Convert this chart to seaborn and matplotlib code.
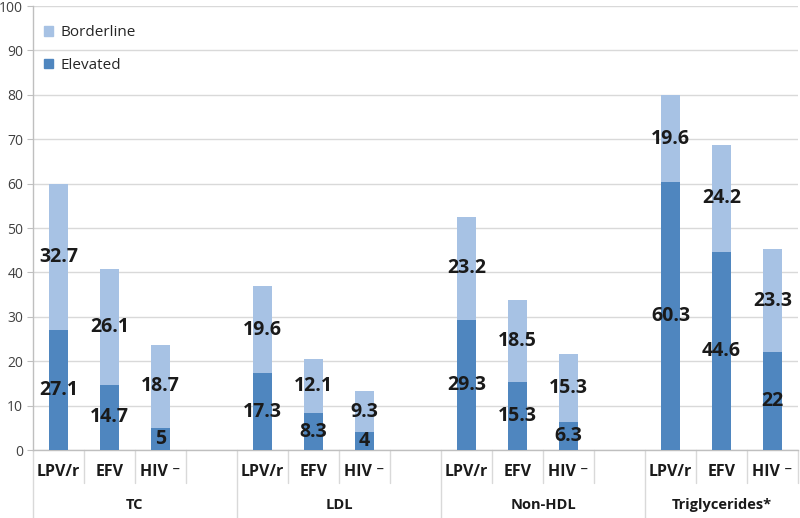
import pandas as pd
import matplotlib.pyplot as plt
import seaborn as sns
from matplotlib.patches import Patch

# values
groups = ["TC", "LDL", "Non-HDL", "Triglycerides*"]
drugs = ["LPV/r", "EFV", "HIV ⁻"]
elevated = [27.1, 14.7, 5, 17.3, 8.3, 4, 29.3, 15.3, 6.3, 60.3, 44.6, 22]
borderline = [32.7, 26.1, 18.7, 19.6, 12.1, 9.3, 23.2, 18.5, 15.3, 19.6, 24.2, 23.3]
yticks = list(range(0, 101, 10))

light = "#A7C2E4"
dark = "#4F86BF"
grid_c = "#D9D9D9"
text_c = "#1A1A1A"

sns.set_style("white")
plt.rcParams["font.family"] = ["Open Sans", "DejaVu Sans"]

# slots: each group has 3 bars + 1 empty slot (except the last group)
rows = []
for g in range(len(groups)):
    for d in range(len(drugs)):
        i = g * 3 + d
        pos = g * 4 + d
        rows.append({"slot": str(pos), "elevated": elevated[i],
                     "borderline": borderline[i],
                     "total": elevated[i] + borderline[i]})
n_slots = len(groups) * 4 - 1
order = [str(k) for k in range(n_slots)]
df = pd.DataFrame(rows)

fig = plt.figure(figsize=(8, 5.18), dpi=100)
ax = fig.add_axes([33 / 800, 68 / 518, 765 / 800, 444 / 518])

sns.barplot(data=df, x="slot", y="total", order=order, color=light,
            saturation=1, width=0.39, errorbar=None, linewidth=0, ax=ax, zorder=2)
sns.barplot(data=df, x="slot", y="elevated", order=order, color=dark,
            saturation=1, width=0.39, errorbar=None, linewidth=0, ax=ax, zorder=3)

# segment labels
for _, r in df.iterrows():
    x = int(r["slot"])
    ax.text(x, r["elevated"] / 2, f"{r['elevated']:g}", ha="center", va="center",
            fontsize=14, fontweight="bold", color=text_c, zorder=4)
    ax.text(x, r["elevated"] + r["borderline"] / 2, f"{r['borderline']:g}",
            ha="center", va="center", fontsize=14, fontweight="bold",
            color=text_c, zorder=4)

ax.set_xlim(-0.5, n_slots - 0.5)
ax.set_ylim(0, 100)
ax.set_yticks(yticks)
ax.yaxis.grid(True, color=grid_c, linewidth=1)
ax.set_axisbelow(True)
ax.tick_params(axis="y", left=True, length=4, color="#BFBFBF", labelsize=10,
               labelcolor="#404040", pad=3)
ax.set_xticks([])
ax.set_xlabel("")
ax.set_ylabel("")
for s in ["top", "right"]:
    ax.spines[s].set_visible(False)
for s in ["left", "bottom"]:
    ax.spines[s].set_color("#BFBFBF")
    ax.spines[s].set_linewidth(1)

# multi-level category axis
tr = ax.get_xaxis_transform()
for g, name in enumerate(groups):
    start = g * 4 - 0.5
    ax.plot([start, start], [0, -0.16], transform=tr, color=grid_c,
            lw=1, clip_on=False)
    for d, lab in enumerate(drugs):
        pos = g * 4 + d
        ax.text(pos, -0.05, lab, transform=tr, ha="center", va="center",
                fontsize=11.5, fontweight="bold", color=text_c)
        ax.plot([pos + 0.5, pos + 0.5], [0, -0.075], transform=tr,
                color=grid_c, lw=1, clip_on=False)
    end = min(start + 4, n_slots - 0.5)
    ax.text((start + end) / 2, -0.124, name, transform=tr, ha="center",
            va="center", fontsize=10.5, fontweight="bold", color=text_c)

handles = [Patch(color=light, label="Borderline"), Patch(color=dark, label="Elevated")]
ax.legend(handles=handles, loc="upper left", bbox_to_anchor=(0.006, 0.97),
          frameon=False, fontsize=11, labelspacing=1.15, handlelength=0.6,
          handleheight=0.6, handletextpad=0.5, borderaxespad=0,
          labelcolor="#262626")

fig.savefig("out.png", dpi=100)
